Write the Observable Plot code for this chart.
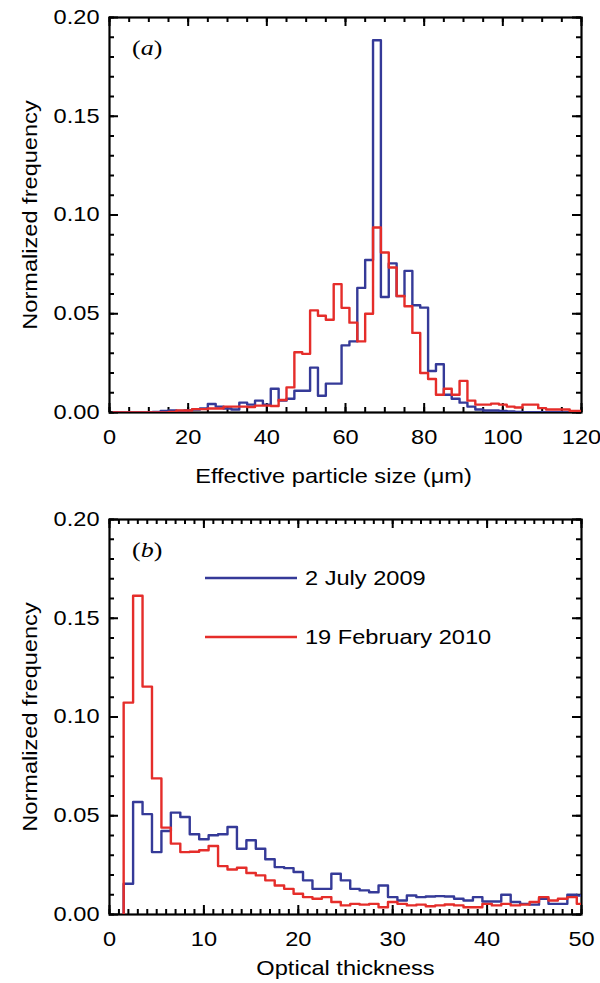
<!DOCTYPE html>
<html>
<head>
<meta charset="utf-8">
<script src="https://cdn.jsdelivr.net/npm/d3@7"></script>
<script src="https://cdn.jsdelivr.net/npm/@observablehq/plot@0.6"></script>
<style>
  html, body { margin: 0; padding: 0; background: #ffffff; }
  #chart { width: 600px; }
  #chart svg { display: block; }
</style>
</head>
<body>
<div id="chart"></div>
<script>
// ---------------- DATA ----------------
const seriesNames = ["2 July 2009", "19 February 2010"];
const panelTags = ["a", "b"];
const axisLabels = ["Effective particle size (\u03bcm)", "Optical thickness"];
const yAxisLabel = "Normalized frequency";

// Panel (a): effective particle size, 2 µm bins (left edges 1, 3, ..., 119)
const sizeBinEdges = d3.range(1, 121, 2);
const sizeJuly2009 = [
  0, 0, 0, 0, 0, 0.0003, 0.0008, 0.001, 0.0008, 0.001,
  0.0015, 0.002, 0.0043, 0.003, 0.002, 0.0015, 0.005, 0.004, 0.006, 0.004,
  0.012, 0.006, 0.007, 0.011, 0.011, 0.0227, 0.0085, 0.0146, 0.0146, 0.034,
  0.036, 0.0631, 0.0772, 0.1885, 0.0585, 0.0755, 0.0589, 0.0717, 0.0543, 0.0531,
  0.021, 0.0244, 0.009, 0.007, 0.005, 0.003, 0.0015, 0.001, 0.001, 0.0008,
  0.0005, 0.0003, 0.0002, 0.0002, 0.0002, 0.0001, 0.0001, 0, 0, 0
];
const sizeFeb2010 = [
  0, 0, 0, 0, 0, 0, 0, 0.0003, 0.001, 0.001,
  0.0017, 0.0017, 0.002, 0.002, 0.003, 0.003, 0.003, 0.0028, 0.0035, 0.0035,
  0.0033, 0.0063, 0.0127, 0.0305, 0.0297, 0.0517, 0.049, 0.047, 0.065, 0.053,
  0.0455, 0.036, 0.050, 0.0937, 0.081, 0.0734, 0.059, 0.0538, 0.0403, 0.020,
  0.017, 0.009, 0.012, 0.009, 0.016, 0.006, 0.004, 0.004, 0.0045, 0.004,
  0.003, 0.0025, 0.004, 0.004, 0.0022, 0.0015, 0.0015, 0.0015, 0.0008, 0.0008
];

// Panel (b): optical thickness, unit bins (left edges 1.5, 2.5, ..., 49.5)
const tauBinEdges = d3.range(1.5, 50, 1);
const tauJuly2009 = [
  0.0156, 0.057, 0.0508, 0.0316, 0.0423, 0.0516, 0.0494, 0.0406, 0.0381, 0.0401,
  0.0406, 0.0443, 0.0333, 0.0376, 0.0333, 0.028, 0.024, 0.0235, 0.0215, 0.0173,
  0.013, 0.013, 0.0206, 0.0173, 0.013, 0.0122, 0.0113, 0.0147, 0.0088, 0.0071,
  0.0096, 0.0088, 0.0091, 0.0093, 0.0091, 0.008, 0.0071, 0.0088, 0.0066, 0.0066,
  0.010, 0.0063, 0.0054, 0.005, 0.008, 0.0054, 0.0054, 0.010, 0.0096
];
const tauFeb2010 = [
  0.1073, 0.1614, 0.1154, 0.0689, 0.044, 0.0359, 0.0316, 0.0318, 0.0325, 0.0347,
  0.0245, 0.0228, 0.0237, 0.021, 0.0198, 0.0173, 0.0147, 0.013, 0.0105, 0.0088,
  0.008, 0.0088, 0.0063, 0.0046, 0.0054, 0.005, 0.0054, 0.0037, 0.0063, 0.0054,
  0.0046, 0.005, 0.0042, 0.0046, 0.0051, 0.0046, 0.0037, 0.0037, 0.0054, 0.0046,
  0.0054, 0.0046, 0.005, 0.0063, 0.0088, 0.0071, 0.008, 0.0088, 0.0054
];

const sizeXTicks = [0, 20, 40, 60, 80, 100, 120];
const sizeXMinor = d3.range(0, 121, 5);
const tauXTicks = [0, 10, 20, 30, 40, 50];
const tauXMinor = d3.range(0, 51, 1);
const yTicks = [0, 0.05, 0.10, 0.15, 0.20];
const yMinor = d3.range(0, 21).map(i => i / 100);

// ---------------- STYLE ----------------
const BLUE = "#353a98";
const RED = "#e52d2a";
const FONT = "'Liberation Sans', Arial, Helvetica, sans-serif";
const SERIF = "'Liberation Serif', 'Times New Roman', serif";
const STRETCH = 1.18;

function stepPoints(edges, values) {
  const w = edges[1] - edges[0];
  const pts = [{x: edges[0], y: 0}];
  edges.forEach((e, i) => pts.push({x: e, y: values[i]}));
  pts.push({x: edges[edges.length - 1] + w, y: values[values.length - 1]});
  return pts;
}

function panel(cfg) {
  const W = 600, ML = 109, MR = 19;
  const {height, marginTop, marginBottom} = cfg;
  const innerH = height - marginTop - marginBottom;
  const innerW = W - ML - MR;
  const majLen = 9, minLen = 5;
  const tick = {stroke: "black", strokeWidth: 2};

  const marks = [
    // inward tick marks on all four sides
    Plot.ruleX(cfg.xMinor, {...tick, insetTop: innerH - minLen}),
    Plot.ruleX(cfg.xMinor, {...tick, insetBottom: innerH - minLen}),
    Plot.ruleX(cfg.xMajor, {...tick, insetTop: innerH - majLen}),
    Plot.ruleX(cfg.xMajor, {...tick, insetBottom: innerH - majLen}),
    Plot.ruleY(yMinor, {...tick, insetRight: innerW - minLen}),
    Plot.ruleY(yMinor, {...tick, insetLeft: innerW - minLen}),
    Plot.ruleY(yTicks, {...tick, insetRight: innerW - majLen}),
    Plot.ruleY(yTicks, {...tick, insetLeft: innerW - majLen}),
    Plot.frame({stroke: "black", strokeWidth: 2.2}),
    // histograms (blue first, red on top)
    Plot.line(stepPoints(cfg.edges, cfg.blue), {x: "x", y: "y", curve: "step-after", stroke: BLUE, strokeWidth: 2.4, clip: true}),
    Plot.line(stepPoints(cfg.edges, cfg.red), {x: "x", y: "y", curve: "step-after", stroke: RED, strokeWidth: 2.4, clip: true}),
    // tick labels
    Plot.text(yTicks, {y: d => d, frameAnchor: "left", dx: -10, textAnchor: "end", lineAnchor: "middle", text: d => d3.format(".2f")(d), fontSize: 20}),
    Plot.text(cfg.xMajor, {x: d => d, frameAnchor: "bottom", dy: 25, textAnchor: "middle", lineAnchor: "middle", text: d => String(d), fontSize: 20}),
    // axis titles
    Plot.text([cfg.xLabel], {frameAnchor: "bottom", dx: cfg.xLabelDx, dy: cfg.xLabelDy, textAnchor: "middle", lineAnchor: "middle", fontSize: 20}),
    Plot.text([yAxisLabel], {frameAnchor: "left", dx: -79, rotate: -90, textAnchor: "middle", lineAnchor: "middle", fontSize: 20}),
    // panel tag "(a)" / "(b)"
    () => {
      const t = d3.create("svg:text")
        .attr("transform", `translate(${ML + 23},${marginTop + 38}) scale(${STRETCH},1)`)
        .attr("text-anchor", "start")
        .attr("font-family", SERIF).attr("font-size", 22).attr("fill", "black");
      t.append("tspan").text("(");
      t.append("tspan").attr("font-style", "italic").text(cfg.tag);
      t.append("tspan").text(")");
      return t.node();
    }
  ];

  if (cfg.legend) {
    marks.push(() => {
      const g = d3.create("svg:g");
      const rows = [{name: seriesNames[0], color: BLUE, dy: 59}, {name: seriesNames[1], color: RED, dy: 118}];
      for (const r of rows) {
        g.append("line")
          .attr("x1", ML + 96).attr("x2", ML + 188)
          .attr("y1", marginTop + r.dy).attr("y2", marginTop + r.dy)
          .attr("stroke", r.color).attr("stroke-width", 2.6);
        g.append("text")
          .attr("transform", `translate(${ML + 196},${marginTop + r.dy}) scale(${STRETCH},1)`)
          .attr("dy", "0.35em")
          .attr("text-anchor", "start")
          .attr("font-family", FONT).attr("font-size", 20).attr("fill", "black")
          .text(r.name);
      }
      return g.node();
    });
  }

  const svg = Plot.plot({
    width: W, height, marginLeft: ML, marginRight: MR, marginTop, marginBottom,
    x: {domain: cfg.xDomain, axis: null},
    y: {domain: [0, 0.2], axis: null},
    style: {fontFamily: FONT, fontSize: "20px", background: "white", color: "black", overflow: "visible"},
    marks
  });

  // stretch Plot-made text horizontally to match the reference's wide lettering
  d3.select(svg).selectAll("text").each(function() {
    const el = d3.select(this);
    const tr = el.attr("transform");
    if (tr && !/scale\(/.test(tr)) el.attr("transform", `${tr} scale(${STRETCH},1)`);
  });
  return svg;
}

const chart = document.getElementById("chart");
chart.appendChild(panel({
  height: 495, marginTop: 17, marginBottom: 83,
  edges: sizeBinEdges, blue: sizeJuly2009, red: sizeFeb2010,
  xDomain: [0, 120], xMajor: sizeXTicks, xMinor: sizeXMinor,
  xLabel: axisLabels[0], xLabelDx: -12, xLabelDy: 64, tag: panelTags[0], legend: false
}));
chart.appendChild(panel({
  height: 488, marginTop: 24, marginBottom: 69,
  edges: tauBinEdges, blue: tauJuly2009, red: tauFeb2010,
  xDomain: [0, 50], xMajor: tauXTicks, xMinor: tauXMinor,
  xLabel: axisLabels[1], xLabelDx: 0, xLabelDy: 54, tag: panelTags[1], legend: true
}));
</script>
</body>
</html>
